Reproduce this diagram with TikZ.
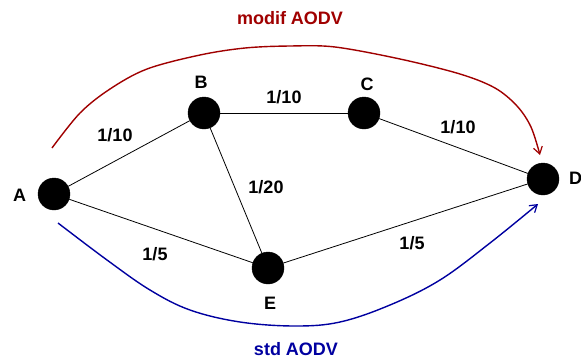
\documentclass[tikz,border=0pt]{standalone}
\usepackage{fontspec}
\setmainfont{Liberation Sans}
\usetikzlibrary{arrows.meta}
\definecolor{modifred}{RGB}{160,0,0}
\definecolor{stdblue}{RGB}{0,0,160}
\tikzset{
  vertex/.style={circle,fill=black,draw=black,minimum size=32pt,inner sep=0pt},
  vlabel/.style={font=\fontsize{18}{20}\selectfont\bfseries,anchor=base,inner sep=0pt},
  wlabel/.style={font=\fontsize{18}{20}\selectfont\bfseries,anchor=base,inner sep=0pt},
  link/.style={draw=black,line width=0.8pt},
  route/.style={line width=1.4pt,-{Straight Barb[length=7pt,width=9pt,line width=1.2pt]}},
}
\begin{document}
\begin{tikzpicture}[x=1pt,y=-1pt]
  \useasboundingbox (0,0) rectangle (581,362);

  % network nodes
  \node[vertex] (A) at (54,194) {};
  \node[vertex] (B) at (204,113) {};
  \node[vertex] (C) at (364,113) {};
  \node[vertex] (D) at (543,179) {};
  \node[vertex] (E) at (268,268) {};

  % node names
  \node[vlabel] (lA) at (19.5,201) {A};
  \node[vlabel] (lB) at (201,88) {B};
  \node[vlabel] (lC) at (367,90) {C};
  \node[vlabel,anchor=base west] (lD) at (569,184) {D};
  \node[vlabel] (lE) at (270,309) {E};

  % links
  \draw[link] (A) -- (B);
  \draw[link] (B) -- (C);
  \draw[link] (C) -- (D);
  \draw[link] (B) -- (E);
  \draw[link] (A) -- (E);
  \draw[link] (E) -- (D);

  % link weights
  \node[wlabel] (wAB) at (115,141) {1/10};
  \node[wlabel] (wBC) at (284,103) {1/10};
  \node[wlabel] (wCD) at (458,133) {1/10};
  \node[wlabel] (wBE) at (266,193) {1/20};
  \node[wlabel] (wAE) at (155,260) {1/5};
  \node[wlabel] (wED) at (412,249) {1/5};

  % route endpoints
  \coordinate (mStart) at (52,148);
  \coordinate (mEnd) at (540,155);
  \coordinate (sStart) at (58,223);
  \coordinate (sEnd) at (538,204);

  % modified AODV route
  \draw[route,draw=modifred] plot[smooth,tension=0.55] coordinates
    {(mStart) (80,113) (110,89) (147,69) (200,55) (245,48) (290,46) (335,47)
     (400,59) (460,74) (495,88) (517,106) (531,127) (mEnd)};
  \node[font=\fontsize{18}{20}\selectfont\bfseries,text=modifred,anchor=base,inner sep=0pt]
    (tModif) at (290,24) {modif AODV};

  % standard AODV route
  \draw[route,draw=stdblue] plot[smooth,tension=0.6] coordinates
    {(sStart) (107,260) (150,290) (190,310) (240,322) (295,326) (340,322)
     (390,305) (440,280) (490,243) (sEnd)};
  \node[font=\fontsize{18}{20}\selectfont\bfseries,text=stdblue,anchor=base,inner sep=0pt]
    (tStd) at (296,355) {std AODV};
\end{tikzpicture}
\end{document}
